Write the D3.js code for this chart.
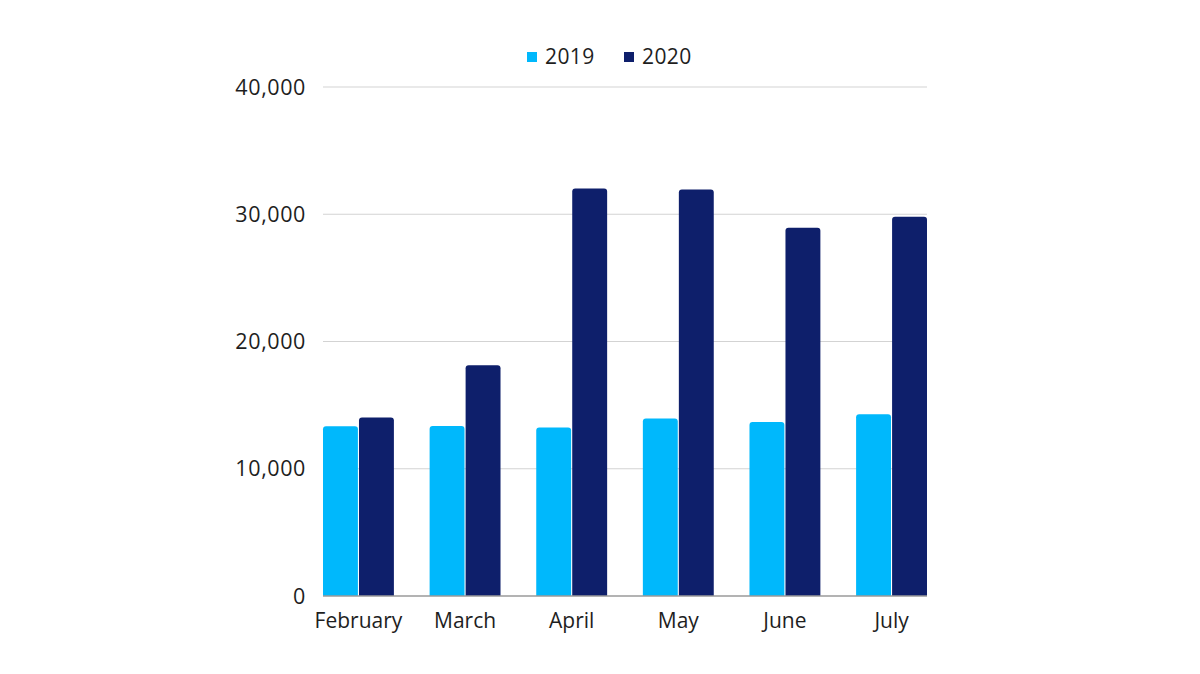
<!DOCTYPE html>
<html lang="en">
<head>
<meta charset="UTF-8">
<title>2019 vs 2020</title>
<script src="https://cdn.jsdelivr.net/npm/d3@7"></script>
<style>
  body { margin: 0; background: #fff; }
  svg { display: block; font-family: "Open Sans", sans-serif; }
</style>
</head>
<body>
<svg id="chart" width="1200" height="674"></svg>
<script>
// data
var months = ["February", "March", "April", "May", "June", "July"];
var years = ["2019", "2020"];
var values2019 = [13340, 13360, 13240, 13950, 13680, 14280];
var values2020 = [14030, 18140, 32030, 31950, 28930, 29800];
var yTicks = [0, 10000, 20000, 30000, 40000];
var colors = ["#00b8fc", "#0e1f6b"];

var plotLeft = 323, plotRight = 927, plotTop = 87, plotBottom = 596;
var svg = d3.select("#chart");

var x = d3.scaleBand().domain(months).range([plotLeft, plotRight])
    .paddingInner(0.335).paddingOuter(0);
var xSub = d3.scaleBand().domain(years).range([0, x.bandwidth()]).paddingInner(0.03);
var y = d3.scaleLinear().domain([0, 40000]).range([plotBottom, plotTop]);

// gridlines
svg.append("g").selectAll("line")
    .data(yTicks.filter(function(d) { return d > 0; }))
    .join("line")
    .attr("x1", plotLeft).attr("x2", plotRight)
    .attr("y1", function(d) { return y(d); })
    .attr("y2", function(d) { return y(d); })
    .attr("stroke", "#d3d3d3").attr("stroke-width", 1.2);

// y labels
svg.append("g").selectAll("text")
    .data(yTicks).join("text")
    .attr("x", 306).attr("y", function(d) { return y(d); })
    .attr("dy", "0.35em").attr("text-anchor", "end")
    .attr("font-size", 21.5).attr("letter-spacing", 0.6).attr("fill", "#1e1e1e")
    .text(function(d) { return d3.format(",")(d); });

// bars, rounded top corners
function barPath(x0, w, yTop, yBase) {
  var r = Math.min(3, (yBase - yTop));
  return "M" + x0 + "," + yBase +
    "V" + (yTop + r) +
    "Q" + x0 + "," + yTop + " " + (x0 + r) + "," + yTop +
    "H" + (x0 + w - r) +
    "Q" + (x0 + w) + "," + yTop + " " + (x0 + w) + "," + (yTop + r) +
    "V" + yBase + "Z";
}

var rows = months.map(function(m, i) {
  return { month: m, vals: [values2019[i], values2020[i]] };
});

var groups = svg.append("g").selectAll("g")
    .data(rows).join("g")
    .attr("transform", function(d) { return "translate(" + x(d.month) + ",0)"; });

groups.selectAll("path")
    .data(function(d) { return d.vals.map(function(v, j) { return { year: years[j], v: v, j: j }; }); })
    .join("path")
    .attr("d", function(d) { return barPath(xSub(d.year), xSub.bandwidth(), y(d.v), y(0)); })
    .attr("fill", function(d) { return colors[d.j]; });

// baseline
svg.append("line")
    .attr("x1", plotLeft).attr("x2", plotRight)
    .attr("y1", y(0)).attr("y2", y(0))
    .attr("stroke", "#9a9a9a").attr("stroke-width", 1.5);

// month labels
svg.append("g").selectAll("text")
    .data(months).join("text")
    .attr("x", function(d) { return x(d) + x.bandwidth() / 2; })
    .attr("y", 628)
    .attr("text-anchor", "middle")
    .attr("font-size", 21).attr("fill", "#1e1e1e")
    .text(function(d) { return d; });

// legend
var legendX = [527, 624];
var legend = svg.append("g").selectAll("g")
    .data(years).join("g")
    .attr("transform", function(d, i) { return "translate(" + legendX[i] + ",57)"; });
legend.append("rect")
    .attr("x", 0).attr("y", -5).attr("width", 10).attr("height", 10)
    .attr("fill", function(d, i) { return colors[i]; });
legend.append("text")
    .attr("x", 18).attr("dy", "0.35em")
    .attr("font-size", 21).attr("letter-spacing", 0.4).attr("fill", "#1e1e1e")
    .text(function(d) { return d; });
</script>
</body>
</html>
